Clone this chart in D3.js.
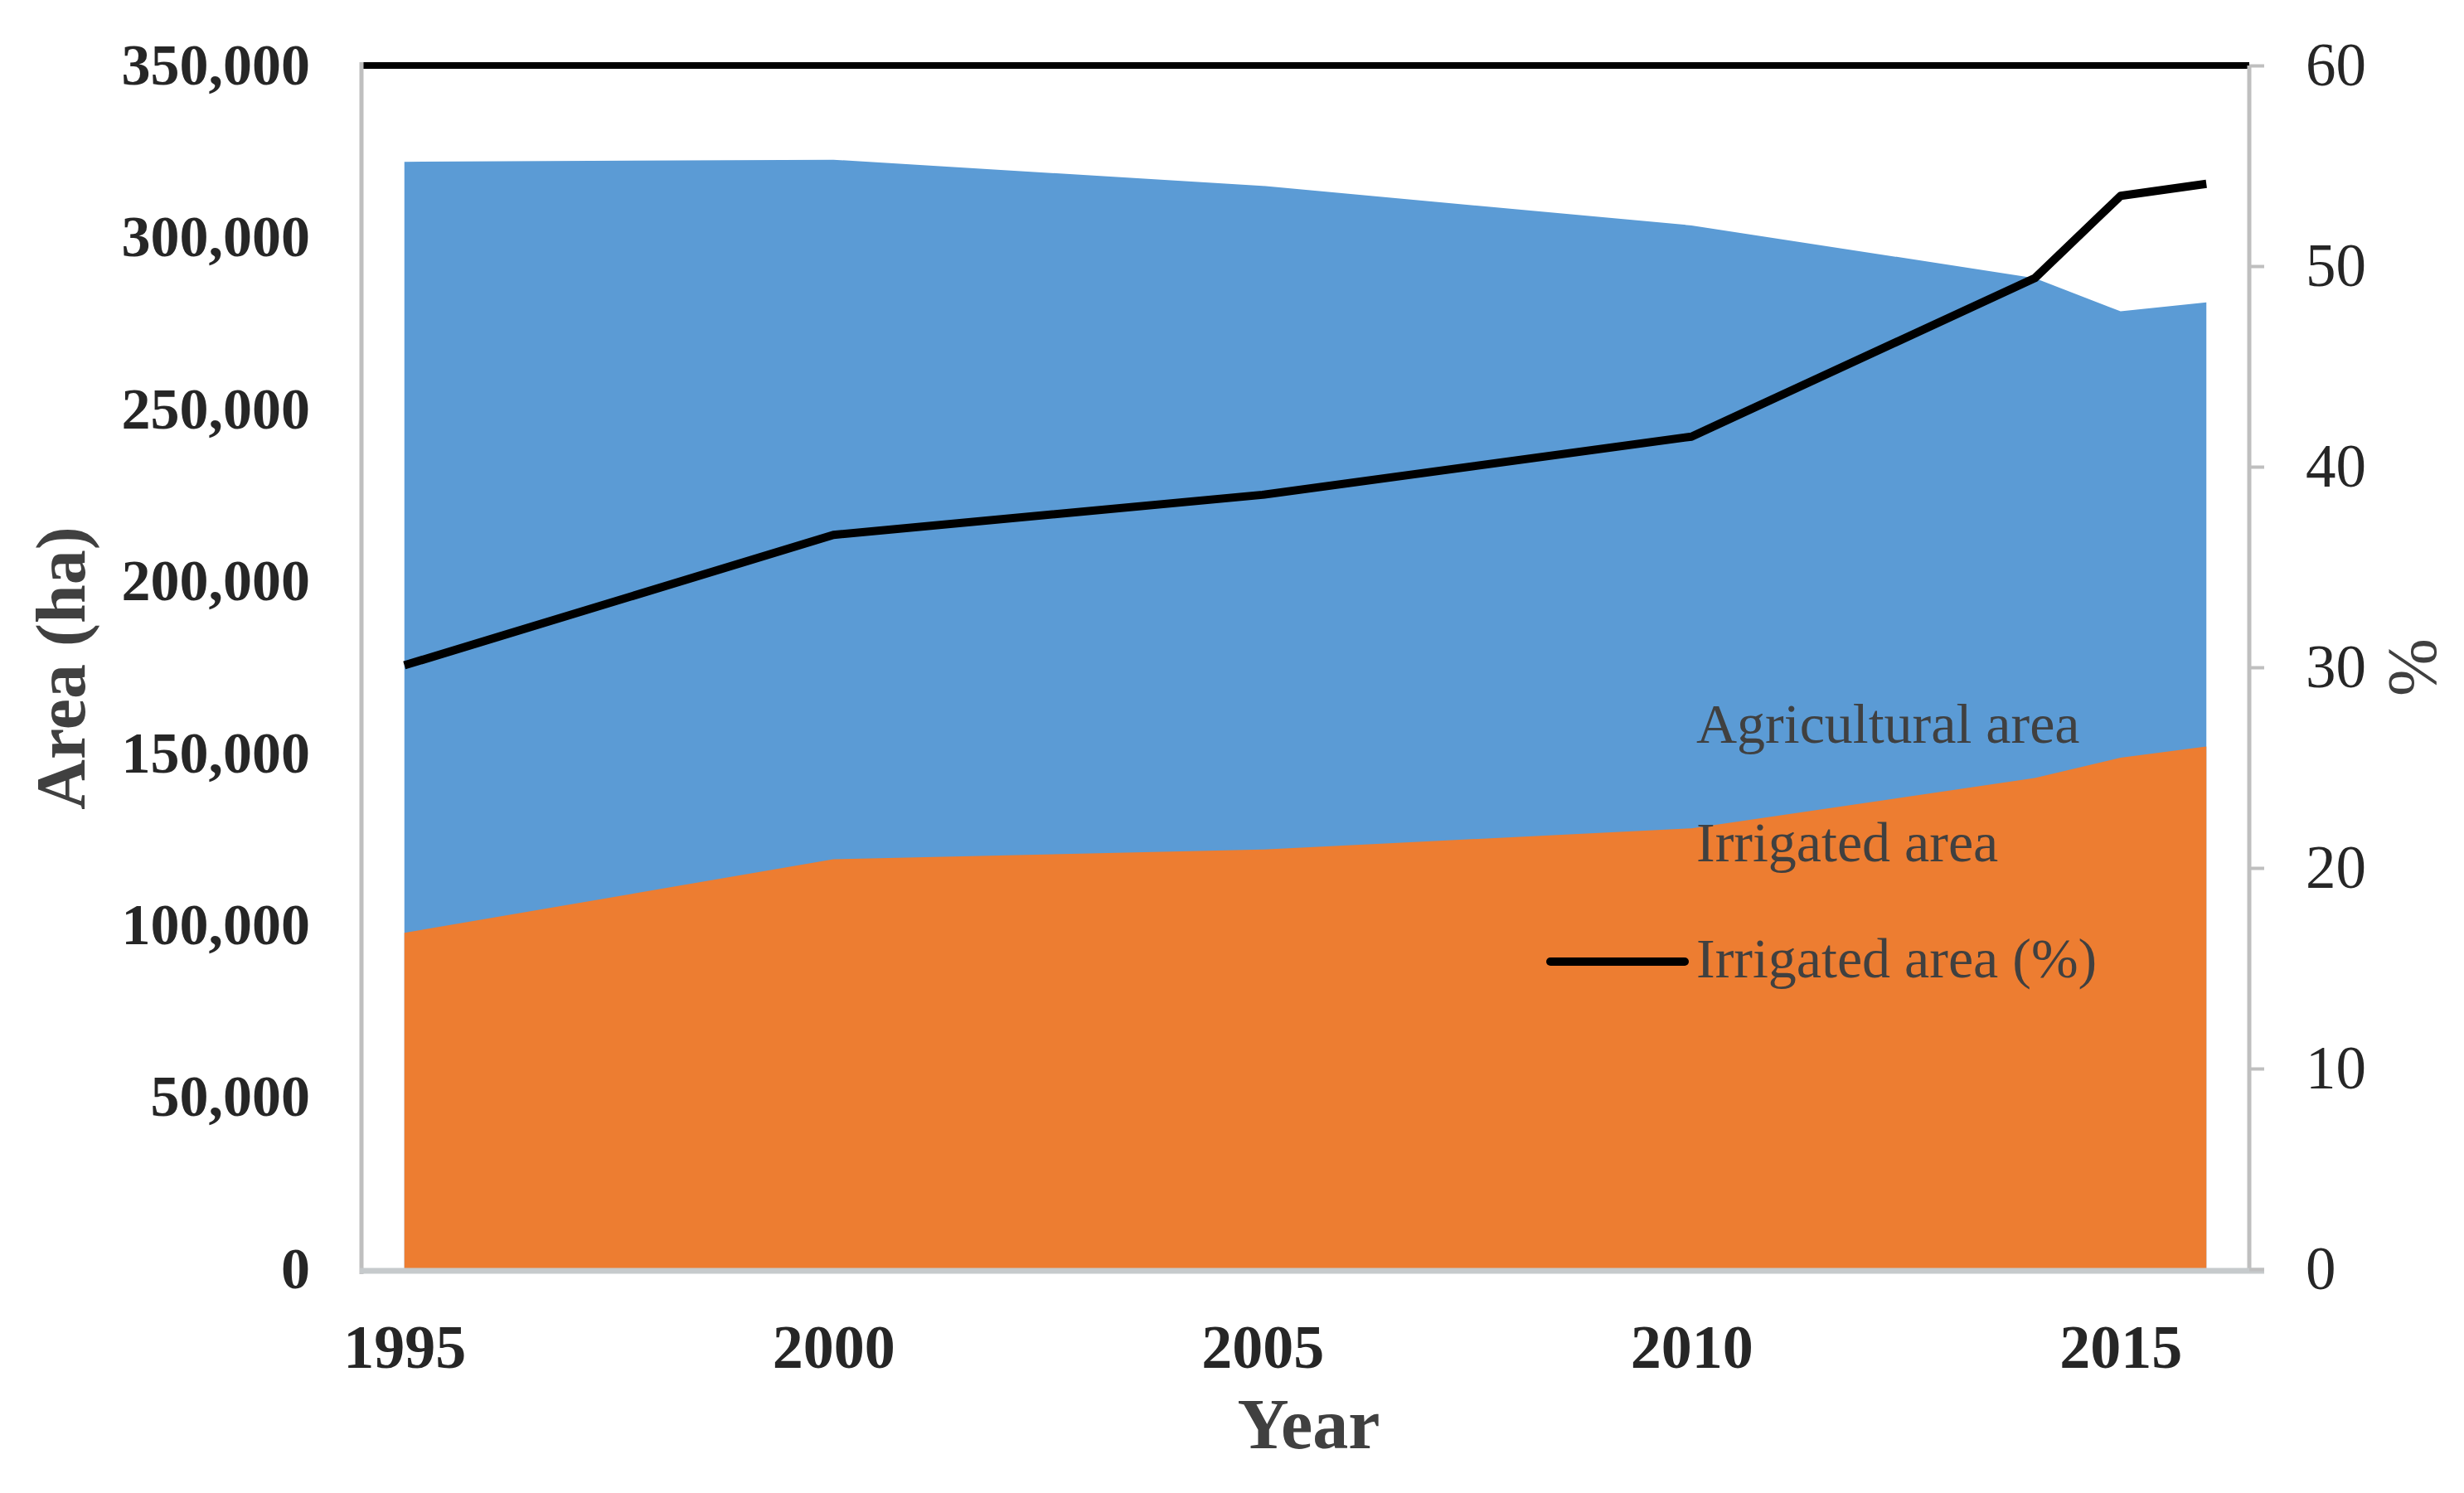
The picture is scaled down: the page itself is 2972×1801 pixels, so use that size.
<!DOCTYPE html>
<html><head><meta charset="utf-8">
<script src="https://cdn.jsdelivr.net/npm/d3@7/dist/d3.min.js"></script>
<style>body{margin:0;background:#fff} text{font-family:"Liberation Serif","Times New Roman",serif}</style>
</head><body>
<svg id="c" width="2972" height="1801"></svg>
<script>
// ---- data ----
const years = [1995, 2000, 2005, 2010, 2014, 2015, 2016];
const agriculturalArea = [322000, 322600, 315000, 303500, 288200, 278500, 281100];
const irrigatedArea = [97800, 119200, 122000, 128200, 142800, 148700, 152000];
const irrigatedPct = [30.1, 36.6, 38.6, 41.5, 49.4, 53.5, 54.1];
const leftTicks = [0, 50000, 100000, 150000, 200000, 250000, 300000, 350000];
const rightTicks = [0, 10, 20, 30, 40, 50, 60];
const xTicks = [1995, 2000, 2005, 2010, 2015];
const legendLabels = ["Agricultural area", "Irrigated area", "Irrigated area (%)"];

const svg = d3.select("#c");
const m = {l: 436, r: 2713, t: 79, b: 1531};
const x = d3.scaleLinear().domain([1994.5, 2016.5]).range([m.l, m.r]);
const yL = d3.scaleLinear().domain([0, 350000]).range([m.b, m.t]);
const yR = d3.scaleLinear().domain([0, 60]).range([m.b, m.t]);

const rows = years.map((yr, i) => ({yr, a: agriculturalArea[i], ir: irrigatedArea[i], p: irrigatedPct[i]}));

// areas
svg.append("path").datum(rows)
  .attr("fill", "#5B9BD5")
  .attr("d", d3.area().x(d => x(d.yr)).y0(yL(0)).y1(d => yL(d.a)));
svg.append("path").datum(rows)
  .attr("fill", "#ED7D31")
  .attr("d", d3.area().x(d => x(d.yr)).y0(yL(0)).y1(d => yL(d.ir)));

// frame lines
svg.append("line").attr("x1", m.l).attr("x2", m.r).attr("y1", m.t).attr("y2", m.t)
  .attr("stroke", "#000").attr("stroke-width", 8);
svg.append("line").attr("x1", m.l).attr("x2", m.l).attr("y1", m.t - 4).attr("y2", m.b + 6)
  .attr("stroke", "#bfbfbf").attr("stroke-width", 5);
svg.append("line").attr("x1", m.r).attr("x2", m.r).attr("y1", m.t).attr("y2", m.b)
  .attr("stroke", "#bfbfbf").attr("stroke-width", 5);
svg.append("line").attr("x1", m.l - 2).attr("x2", m.r + 18).attr("y1", m.b + 2).attr("y2", m.b + 2)
  .attr("stroke", "#c6cacc").attr("stroke-width", 7);

// line series
svg.append("path").datum(rows)
  .attr("fill", "none").attr("stroke", "#000").attr("stroke-width", 10)
  .attr("stroke-linejoin", "round")
  .attr("d", d3.line().x(d => x(d.yr)).y(d => yR(d.p)));

// left axis
const gL = svg.append("g").attr("transform", `translate(${m.l},0)`)
  .call(d3.axisLeft(yL).tickValues(leftTicks).tickSize(0).tickPadding(62).tickFormat(d3.format(",")));
gL.select(".domain").remove();
gL.selectAll("text").attr("font-size", 70).attr("font-weight", "bold").attr("fill", "#262626")
  .attr("font-family", "Liberation Serif, serif");

// right axis
const gR = svg.append("g").attr("transform", `translate(${m.r},0)`)
  .call(d3.axisRight(yR).tickValues(rightTicks).tickSize(18).tickPadding(50).tickFormat(d3.format("d")));
gR.select(".domain").remove();
gR.selectAll(".tick line").attr("stroke", "#bfbfbf").attr("stroke-width", 4);
gR.selectAll("text").attr("font-size", 73).attr("fill", "#262626")
  .attr("font-family", "Liberation Serif, serif");

// bottom axis
const gB = svg.append("g").attr("transform", `translate(0,${m.b})`)
  .call(d3.axisBottom(x).tickValues(xTicks).tickSize(0).tickPadding(66).tickFormat(d3.format("d")));
gB.select(".domain").remove();
gB.selectAll("text").attr("font-size", 74).attr("font-weight", "bold").attr("fill", "#262626")
  .attr("font-family", "Liberation Serif, serif");

// axis titles
svg.append("text").attr("x", (m.l + m.r) / 2 + 4).attr("y", 1747)
  .attr("text-anchor", "middle").attr("font-size", 86).attr("font-weight", "bold").attr("fill", "#404040")
  .text("Year");
svg.append("text").attr("transform", `translate(102,806) rotate(-90)`)
  .attr("text-anchor", "middle").attr("font-size", 84).attr("font-weight", "bold").attr("fill", "#404040")
  .text("Area (ha)");
svg.append("text").attr("transform", `translate(2938,805) rotate(-90)`)
  .attr("text-anchor", "middle").attr("font-size", 84).attr("fill", "#404040")
  .text("%");

// legend (in-plot)
const legY = [896, 1039, 1179];
svg.selectAll(".leg").data(legendLabels).enter().append("text")
  .attr("class", "leg").attr("x", 2046).attr("y", (d, i) => legY[i])
  .attr("font-size", 68).attr("fill", "#404040").text(d => d);
svg.append("line").attr("x1", 1870).attr("x2", 2032).attr("y1", 1160).attr("y2", 1160)
  .attr("stroke", "#000").attr("stroke-width", 10).attr("stroke-linecap", "round");
</script>
</body></html>
